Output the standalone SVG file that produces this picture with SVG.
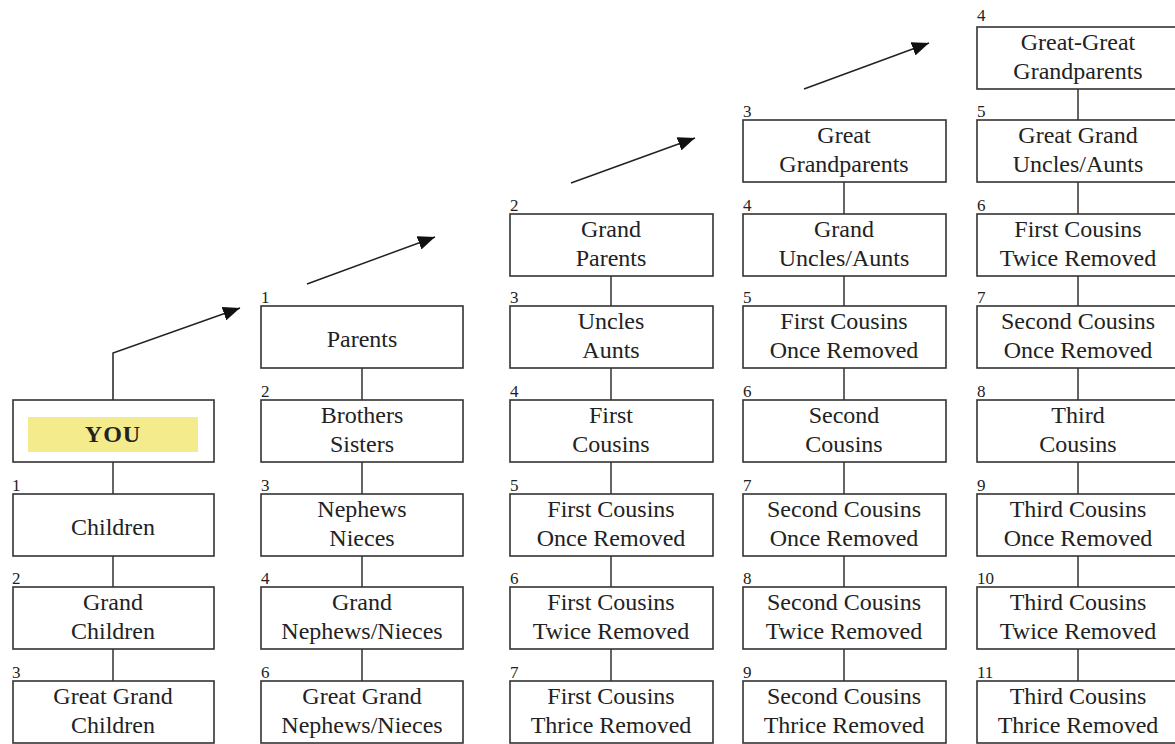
<svg xmlns="http://www.w3.org/2000/svg" width="1175" height="744" viewBox="0 0 1175 744">
<style>
.box{fill:#fff;stroke:#333;stroke-width:1.6}
.t{font-family:'Liberation Serif','DejaVu Serif',serif;font-size:24px;fill:#222;text-anchor:middle}
.n{font-family:'Liberation Serif','DejaVu Serif',serif;font-size:17px;fill:#222}
.c{stroke:#333;stroke-width:1.5;fill:none}
.a{stroke:#222;stroke-width:1.5;fill:none}
</style>
<defs>
<marker id="ah" markerUnits="userSpaceOnUse" markerWidth="18" markerHeight="14" refX="17" refY="7" orient="auto">
<path d="M0,0 L17,7 L0,14 Z" fill="#111"/>
</marker>
</defs>
<rect width="1175" height="744" fill="#fff"/>
<g id="connectors">
<path class="a" d="M113,400 V353 L240,308" marker-end="url(#ah)"/>
<path class="a" d="M307,284 L435,237" marker-end="url(#ah)"/>
<path class="a" d="M571,183 L695,138" marker-end="url(#ah)"/>
<path class="a" d="M804,89 L929,43" marker-end="url(#ah)"/>
<path class="c" d="M113,462 V494 M113,556 V587 M113,649 V681"/>
<path class="c" d="M362,368 V400 M362,462 V494 M362,556 V587 M362,649 V681"/>
<path class="c" d="M611,276 V306 M611,368 V400 M611,462 V494 M611,556 V587 M611,649 V681"/>
<path class="c" d="M844,182 V214 M844,276 V306 M844,368 V400 M844,462 V494 M844,556 V587 M844,649 V681"/>
<path class="c" d="M1078,89 V120 M1078,182 V214 M1078,276 V306 M1078,368 V400 M1078,462 V494 M1078,556 V587 M1078,649 V681"/>
</g>
<!-- Column 1 -->
<g id="you"><rect class="box" x="13" y="400" width="201" height="62"/><rect x="28" y="417" width="170" height="35" fill="#f4eb8c"/><text class="t" x="113" y="442" font-weight="bold" letter-spacing="1">YOU</text></g>
<g id="children"><text class="n" x="12" y="491">1</text><rect class="box" x="13" y="494" width="201" height="62"/><text class="t" x="113" y="535">Children</text></g>
<g id="grandchildren"><text class="n" x="12" y="584">2</text><rect class="box" x="13" y="587" width="201" height="62"/><text class="t" x="113" y="610">Grand</text><text class="t" x="113" y="639">Children</text></g>
<g id="greatgrandchildren"><text class="n" x="12" y="678">3</text><rect class="box" x="13" y="681" width="201" height="62"/><text class="t" x="113" y="704">Great Grand</text><text class="t" x="113" y="733">Children</text></g>
<!-- Column 2 -->
<g id="parents"><text class="n" x="261" y="303">1</text><rect class="box" x="261" y="306" width="202" height="62"/><text class="t" x="362" y="347">Parents</text></g>
<g id="siblings"><text class="n" x="261" y="397">2</text><rect class="box" x="261" y="400" width="202" height="62"/><text class="t" x="362" y="423">Brothers</text><text class="t" x="362" y="452">Sisters</text></g>
<g id="nephews"><text class="n" x="261" y="491">3</text><rect class="box" x="261" y="494" width="202" height="62"/><text class="t" x="362" y="517">Nephews</text><text class="t" x="362" y="546">Nieces</text></g>
<g id="grandnephews"><text class="n" x="261" y="584">4</text><rect class="box" x="261" y="587" width="202" height="62"/><text class="t" x="362" y="610">Grand</text><text class="t" x="362" y="639">Nephews/Nieces</text></g>
<g id="greatgrandnephews"><text class="n" x="261" y="678">6</text><rect class="box" x="261" y="681" width="202" height="62"/><text class="t" x="362" y="704">Great Grand</text><text class="t" x="362" y="733">Nephews/Nieces</text></g>
<!-- Column 3 -->
<g id="grandparents"><text class="n" x="510" y="211">2</text><rect class="box" x="510" y="214" width="203" height="62"/><text class="t" x="611" y="237">Grand</text><text class="t" x="611" y="266">Parents</text></g>
<g id="uncles"><text class="n" x="510" y="303">3</text><rect class="box" x="510" y="306" width="203" height="62"/><text class="t" x="611" y="329">Uncles</text><text class="t" x="611" y="358">Aunts</text></g>
<g id="firstcousins"><text class="n" x="510" y="397">4</text><rect class="box" x="510" y="400" width="203" height="62"/><text class="t" x="611" y="423">First</text><text class="t" x="611" y="452">Cousins</text></g>
<g id="fc1r-c3"><text class="n" x="510" y="491">5</text><rect class="box" x="510" y="494" width="203" height="62"/><text class="t" x="611" y="517">First Cousins</text><text class="t" x="611" y="546">Once Removed</text></g>
<g id="fc2r-c3"><text class="n" x="510" y="584">6</text><rect class="box" x="510" y="587" width="203" height="62"/><text class="t" x="611" y="610">First Cousins</text><text class="t" x="611" y="639">Twice Removed</text></g>
<g id="fc3r-c3"><text class="n" x="510" y="678">7</text><rect class="box" x="510" y="681" width="203" height="62"/><text class="t" x="611" y="704">First Cousins</text><text class="t" x="611" y="733">Thrice Removed</text></g>
<!-- Column 4 -->
<g id="greatgrandparents"><text class="n" x="743" y="117">3</text><rect class="box" x="743" y="120" width="203" height="62"/><text class="t" x="844" y="143">Great</text><text class="t" x="844" y="172">Grandparents</text></g>
<g id="granduncles"><text class="n" x="743" y="211">4</text><rect class="box" x="743" y="214" width="203" height="62"/><text class="t" x="844" y="237">Grand</text><text class="t" x="844" y="266">Uncles/Aunts</text></g>
<g id="fc1r-c4"><text class="n" x="743" y="303">5</text><rect class="box" x="743" y="306" width="203" height="62"/><text class="t" x="844" y="329">First Cousins</text><text class="t" x="844" y="358">Once Removed</text></g>
<g id="secondcousins"><text class="n" x="743" y="397">6</text><rect class="box" x="743" y="400" width="203" height="62"/><text class="t" x="844" y="423">Second</text><text class="t" x="844" y="452">Cousins</text></g>
<g id="sc1r-c4"><text class="n" x="743" y="491">7</text><rect class="box" x="743" y="494" width="203" height="62"/><text class="t" x="844" y="517">Second Cousins</text><text class="t" x="844" y="546">Once Removed</text></g>
<g id="sc2r-c4"><text class="n" x="743" y="584">8</text><rect class="box" x="743" y="587" width="203" height="62"/><text class="t" x="844" y="610">Second Cousins</text><text class="t" x="844" y="639">Twice Removed</text></g>
<g id="sc3r-c4"><text class="n" x="743" y="678">9</text><rect class="box" x="743" y="681" width="203" height="62"/><text class="t" x="844" y="704">Second Cousins</text><text class="t" x="844" y="733">Thrice Removed</text></g>
<!-- Column 5 -->
<g id="greatgreatgrandparents"><text class="n" x="977" y="21">4</text><rect class="box" x="977" y="27" width="203" height="62"/><text class="t" x="1078" y="50">Great-Great</text><text class="t" x="1078" y="79">Grandparents</text></g>
<g id="greatgranduncles"><text class="n" x="977" y="117">5</text><rect class="box" x="977" y="120" width="203" height="62"/><text class="t" x="1078" y="143">Great Grand</text><text class="t" x="1078" y="172">Uncles/Aunts</text></g>
<g id="fc2r-c5"><text class="n" x="977" y="211">6</text><rect class="box" x="977" y="214" width="203" height="62"/><text class="t" x="1078" y="237">First Cousins</text><text class="t" x="1078" y="266">Twice Removed</text></g>
<g id="sc1r-c5"><text class="n" x="977" y="303">7</text><rect class="box" x="977" y="306" width="203" height="62"/><text class="t" x="1078" y="329">Second Cousins</text><text class="t" x="1078" y="358">Once Removed</text></g>
<g id="thirdcousins"><text class="n" x="977" y="397">8</text><rect class="box" x="977" y="400" width="203" height="62"/><text class="t" x="1078" y="423">Third</text><text class="t" x="1078" y="452">Cousins</text></g>
<g id="tc1r"><text class="n" x="977" y="491">9</text><rect class="box" x="977" y="494" width="203" height="62"/><text class="t" x="1078" y="517">Third Cousins</text><text class="t" x="1078" y="546">Once Removed</text></g>
<g id="tc2r"><text class="n" x="977" y="584">10</text><rect class="box" x="977" y="587" width="203" height="62"/><text class="t" x="1078" y="610">Third Cousins</text><text class="t" x="1078" y="639">Twice Removed</text></g>
<g id="tc3r"><text class="n" x="977" y="678">11</text><rect class="box" x="977" y="681" width="203" height="62"/><text class="t" x="1078" y="704">Third Cousins</text><text class="t" x="1078" y="733">Thrice Removed</text></g>
</svg>
